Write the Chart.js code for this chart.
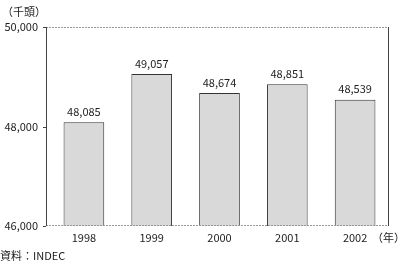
<!DOCTYPE html>
<html><head><meta charset="utf-8">
<script src="https://cdn.jsdelivr.net/npm/chart.js@4/dist/chart.umd.min.js"></script>
<style>html,body{margin:0;padding:0;background:#fff}#w{width:400px;height:264px}</style>
</head><body><div id="w"><canvas id="c"></canvas></div>
<script>
const categories = ['1998','1999','2000','2001','2002'];
const values = [48085, 49057, 48674, 48851, 48539];
const valueLabels = ['48,085','49,057','48,674','48,851','48,539'];
const yMin = 46000, yMax = 50000, yStep = 2000;
const unitLabel = '（千頭）';
const xUnitLabel = '（年）';
const sourceLabel = '資料：INDEC';

const FONT = '"Noto Sans CJK JP", "DejaVu Sans", sans-serif';
const fmt = v => v.toLocaleString('en-US');
const FRAME_INSET = 4;

const deco = {
  id: 'deco',
  afterDatasetsDraw(chart) {
    const ctx = chart.ctx, a = chart.chartArea;
    const L = a.left - FRAME_INSET;
    ctx.save();
    ctx.lineWidth = 1;
    ctx.strokeStyle = '#999';
    ctx.setLineDash([2,1]);
    ctx.beginPath();
    ctx.moveTo(L, a.top + 0.5); ctx.lineTo(a.right, a.top + 0.5);
    ctx.moveTo(L, a.bottom - 0.5); ctx.lineTo(a.right, a.bottom - 0.5);
    ctx.stroke();
    ctx.setLineDash([]);
    ctx.strokeStyle = '#444';
    ctx.beginPath();
    ctx.moveTo(L + 0.5, a.top); ctx.lineTo(L + 0.5, a.bottom);
    ctx.moveTo(a.right - 0.5, a.top); ctx.lineTo(a.right - 0.5, a.bottom);
    // y tick marks
    const ys = chart.scales.y;
    ys.ticks.forEach(t => {
      const y = Math.round(ys.getPixelForValue(t.value)) + 0.5;
      ctx.moveTo(L - 3, y); ctx.lineTo(L, y);
    });
    ctx.stroke();
    // value labels
    ctx.fillStyle = '#222';
    ctx.font = '11px ' + FONT;
    ctx.textAlign = 'center';
    ctx.textBaseline = 'bottom';
    const meta = chart.getDatasetMeta(0);
    meta.data.forEach((bar, i) => {
      ctx.fillText(valueLabels[i], bar.x, bar.y - 5);
    });
    ctx.textAlign = 'left';
    ctx.textBaseline = 'middle';
    ctx.fillText(unitLabel, 2, 12);
    ctx.fillText(xUnitLabel, 372, 238);
    ctx.fillText(sourceLabel, 0, 256);
    ctx.restore();
  }
};

new Chart(document.getElementById('c'), {
  type: 'bar',
  data: {
    labels: categories,
    datasets: [{
      data: values,
      backgroundColor: '#d9d9d9',
      borderColor: '#333',
      borderWidth: 1,
      categoryPercentage: 1,
      barPercentage: 0.6
    }]
  },
  options: {
    responsive: true,
    maintainAspectRatio: false,
    animation: false,
    devicePixelRatio: 1,
    layout: { padding: { left: 0, right: 11, top: 27, bottom: 18 } },
    plugins: { legend: { display: false }, tooltip: { enabled: false } },
    scales: {
      x: {
        grid: { display: false, drawTicks: false },
        border: { display: false },
        ticks: { color: '#222', font: { family: FONT, size: 11 }, padding: 5, maxRotation: 0 },
        afterFit(s) { s.height = 20; }
      },
      y: {
        min: yMin, max: yMax,
        grid: { display: false, drawTicks: false },
        border: { display: false },
        ticks: { stepSize: yStep, color: '#222', font: { family: FONT, size: 11 }, padding: 12, callback: v => fmt(v) },
        afterFit(s) { s.width = 50; }
      }
    }
  },
  plugins: [deco]
});
</script></body></html>
